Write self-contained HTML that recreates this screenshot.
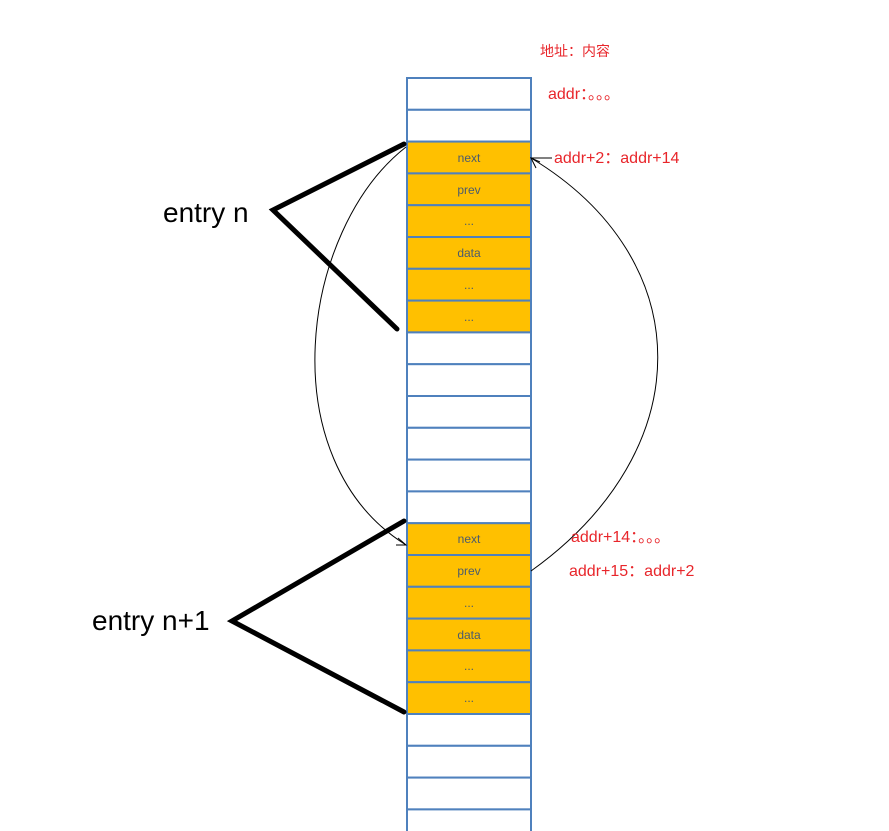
<!DOCTYPE html>
<html><head><meta charset="utf-8"><style>
html,body{margin:0;padding:0;background:#fff;width:889px;height:831px;overflow:hidden}
svg{display:block}
</style></head><body>
<svg width="889" height="831" xmlns="http://www.w3.org/2000/svg" font-family="Liberation Sans, Noto Sans CJK SC, sans-serif">
<g stroke="#4F81BD" stroke-width="2">
<rect x="407" y="78" width="124" height="31.8" fill="#fff"/>
<rect x="407" y="109.8" width="124" height="31.8" fill="#fff"/>
<rect x="407" y="141.6" width="124" height="31.8" fill="#FFC000"/>
<rect x="407" y="173.4" width="124" height="31.8" fill="#FFC000"/>
<rect x="407" y="205.2" width="124" height="31.8" fill="#FFC000"/>
<rect x="407" y="237" width="124" height="31.8" fill="#FFC000"/>
<rect x="407" y="268.8" width="124" height="31.8" fill="#FFC000"/>
<rect x="407" y="300.6" width="124" height="31.8" fill="#FFC000"/>
<rect x="407" y="332.4" width="124" height="31.8" fill="#fff"/>
<rect x="407" y="364.2" width="124" height="31.8" fill="#fff"/>
<rect x="407" y="396" width="124" height="31.8" fill="#fff"/>
<rect x="407" y="427.8" width="124" height="31.8" fill="#fff"/>
<rect x="407" y="459.6" width="124" height="31.8" fill="#fff"/>
<rect x="407" y="491.4" width="124" height="31.8" fill="#fff"/>
<rect x="407" y="523.2" width="124" height="31.8" fill="#FFC000"/>
<rect x="407" y="555" width="124" height="31.8" fill="#FFC000"/>
<rect x="407" y="586.8" width="124" height="31.8" fill="#FFC000"/>
<rect x="407" y="618.6" width="124" height="31.8" fill="#FFC000"/>
<rect x="407" y="650.4" width="124" height="31.8" fill="#FFC000"/>
<rect x="407" y="682.2" width="124" height="31.8" fill="#FFC000"/>
<rect x="407" y="714" width="124" height="31.8" fill="#fff"/>
<rect x="407" y="745.8" width="124" height="31.8" fill="#fff"/>
<rect x="407" y="777.6" width="124" height="31.8" fill="#fff"/>
<rect x="407" y="809.4" width="124" height="31.8" fill="#fff"/>
</g>
<g font-size="12" fill="#4a5b6e" text-anchor="middle">
<text x="469" y="162">next</text>
<text x="469" y="194">prev</text>
<text x="469" y="225">...</text>
<text x="469" y="257">data</text>
<text x="469" y="289">...</text>
<text x="469" y="321">...</text>
<text x="469" y="543">next</text>
<text x="469" y="575">prev</text>
<text x="469" y="607">...</text>
<text x="469" y="639">data</text>
<text x="469" y="670">...</text>
<text x="469" y="702">...</text>
</g>
<g fill="none" stroke="#000" stroke-width="5" stroke-linecap="round" stroke-linejoin="miter">
<polyline points="404,144 273,210 397,329"/>
<polyline points="404,521 232,621 404,712"/>
</g>
<g fill="none" stroke="#000" stroke-width="1">
<path d="M406,147 C300,230 270,460 406,545"/>
<path d="M398,538 L406,545 L396,545"/>
<path d="M531,571 C700,450 700,260 531,158"/>
<path d="M536,168 L531,158 L540,162"/>
<line x1="531" y1="158" x2="552" y2="158"/>
</g>
<text x="163" y="222" font-size="28" fill="#000">entry n</text>
<text x="92" y="630" font-size="28" fill="#000">entry n+1</text>
<g fill="#e8262b" font-size="16">
<text x="540" y="56" font-size="14">地址：内容</text>
<text x="548" y="99">addr：。。。</text>
<text x="554" y="163">addr+2：addr+14</text>
<text x="571" y="542">addr+14：。。。</text>
<text x="569" y="576">addr+15：addr+2</text>
</g>
</svg>
</body></html>
